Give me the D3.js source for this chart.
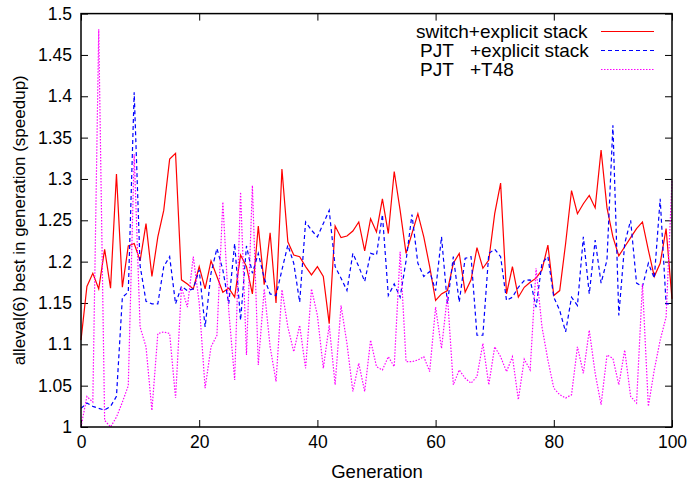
<!DOCTYPE html>
<html>
<head>
<meta charset="utf-8">
<script src="https://cdn.jsdelivr.net/npm/d3@7"></script>
<style>
  body { margin: 0; background: #fff; }
  text { font-family: "Liberation Sans", Arial, sans-serif; fill: #000; }
</style>
</head>
<body>
<script>
/* CONSTANTS */
const WIDTH = 689;
const HEIGHT = 487;
const LEFT = 81, RIGHT = 672, TOP = 13.6, BOTTOM = 427;

/* DATA */
const generations = d3.range(0, 101);
const switchExplicit = [
  1.105, 1.170, 1.186, 1.167, 1.215, 1.168, 1.306, 1.169, 1.219, 1.222,
  1.201, 1.246, 1.182, 1.230, 1.262, 1.324, 1.331, 1.178, 1.173, 1.167,
  1.194, 1.167, 1.201, 1.182, 1.163, 1.168, 1.157, 1.208, 1.194, 1.161,
  1.243, 1.172, 1.235, 1.150, 1.312, 1.224, 1.208, 1.206, 1.194, 1.184,
  1.194, 1.182, 1.125, 1.243, 1.229, 1.231, 1.237, 1.248, 1.213, 1.252,
  1.236, 1.276, 1.234, 1.309, 1.262, 1.210, 1.234, 1.258, 1.230, 1.194,
  1.153, 1.161, 1.165, 1.198, 1.210, 1.163, 1.178, 1.217, 1.192, 1.202,
  1.258, 1.295, 1.161, 1.194, 1.157, 1.169, 1.175, 1.180, 1.190, 1.220,
  1.159, 1.165, 1.222, 1.286, 1.258, 1.270, 1.280, 1.265, 1.335, 1.265,
  1.230, 1.207, 1.218, 1.229, 1.240, 1.248, 1.214, 1.182, 1.198, 1.240,
  1.155
];
const pjtExplicit = [
  1.0225, 1.029, 1.025, 1.0225, 1.0205, 1.025, 1.037, 1.157, 1.163, 1.405,
  1.195, 1.152, 1.149, 1.149, 1.194, 1.206, 1.149, 1.170, 1.165, 1.167,
  1.190, 1.121, 1.186, 1.216, 1.190, 1.149, 1.222, 1.129, 1.219, 1.186,
  1.210, 1.180, 1.161, 1.159, 1.190, 1.220, 1.198, 1.151, 1.248, 1.238,
  1.230, 1.246, 1.262, 1.194, 1.180, 1.165, 1.210, 1.194, 1.176, 1.210,
  1.208, 1.257, 1.159, 1.173, 1.157, 1.201, 1.257, 1.198, 1.182, 1.188,
  1.165, 1.230, 1.149, 1.206, 1.151, 1.204, 1.206, 1.111, 1.111, 1.210,
  1.215, 1.206, 1.153, 1.157, 1.169, 1.177, 1.178, 1.145, 1.198, 1.206,
  1.157, 1.141, 1.115, 1.157, 1.147, 1.230, 1.161, 1.226, 1.174, 1.202,
  1.365, 1.135, 1.222, 1.250, 1.174, 1.170, 1.198, 1.180, 1.276, 1.149,
  1.149
];
const pjtT48 = [
  1.000, 1.037, 1.030, 1.481, 1.008, 1.000, 1.012, 1.030, 1.050, 1.330,
  1.121, 1.097, 1.020, 1.113, 1.115, 1.113, 1.035, 1.169, 1.145, 1.206,
  1.150, 1.047, 1.097, 1.111, 1.272, 1.141, 1.057, 1.284, 1.087, 1.292,
  1.075, 1.167, 1.097, 1.055, 1.166, 1.121, 1.091, 1.123, 1.071, 1.167,
  1.135, 1.071, 1.123, 1.051, 1.147, 1.101, 1.043, 1.077, 1.043, 1.105,
  1.073, 1.069, 1.085, 1.073, 1.212, 1.079, 1.079, 1.081, 1.085, 1.067,
  1.145, 1.095, 1.159, 1.051, 1.069, 1.059, 1.053, 1.061, 1.101, 1.051,
  1.097, 1.085, 1.067, 1.085, 1.033, 1.082, 1.069, 1.192, 1.121, 1.081,
  1.047, 1.039, 1.035, 1.039, 1.097, 1.065, 1.117, 1.065, 1.027, 1.087,
  1.083, 1.051, 1.093, 1.037, 1.029, 1.173, 1.025, 1.069, 1.105, 1.133,
  1.298
];
const xTicks = [0, 20, 40, 60, 80, 100];
const yTicks = [1, 1.05, 1.1, 1.15, 1.2, 1.25, 1.3, 1.35, 1.4, 1.45, 1.5];
const yTickLabels = ["1", "1.05", "1.1", "1.15", "1.2", "1.25", "1.3", "1.35", "1.4", "1.45", "1.5"];
const seriesNames = ["switch+explicit stack", "PJT\t+explicit stack", "PJT\t+T48"];
const seriesColors = ["#ff0000", "#0000ff", "#ff00ff"];
const seriesDash = [null, "4,3", "1.5,1.5"];

/* D3 */
const svg = d3.select("body")
    .append("svg")
    .attr("width", WIDTH)
    .attr("height", HEIGHT);

const x = d3.scaleLinear().domain([0, 100]).range([LEFT, RIGHT]);
const y = d3.scaleLinear().domain([1, 1.5]).range([BOTTOM, TOP]);

// axes, gnuplot style: ticks point inward on all four sides
const fontSize = "17px";
svg.append("g")
    .attr("transform", `translate(0,${BOTTOM})`)
    .call(d3.axisBottom(x).tickValues(xTicks).tickSize(-7).tickPadding(9))
    .call(g => g.select(".domain").remove())
    .selectAll("text").attr("font-size", "17.5px").attr("font-family", null);

svg.append("g")
    .attr("transform", `translate(0,${TOP})`)
    .call(d3.axisTop(x).tickValues(xTicks).tickSize(-7).tickFormat(""))
    .call(g => g.select(".domain").remove());

svg.append("g")
    .attr("transform", `translate(${LEFT},0)`)
    .call(d3.axisLeft(y).tickValues(yTicks).tickSize(-7).tickPadding(9)
        .tickFormat((d, i) => yTickLabels[i]))
    .call(g => g.select(".domain").remove())
    .selectAll("text").attr("font-size", "17.5px").attr("font-family", null);

svg.append("g")
    .attr("transform", `translate(${RIGHT},0)`)
    .call(d3.axisRight(y).tickValues(yTicks).tickSize(-7).tickFormat(""))
    .call(g => g.select(".domain").remove());

svg.selectAll(".tick line").attr("stroke", "#000").attr("stroke-width", 1);

// series
const line = d3.line()
    .x((d, i) => x(generations[i]))
    .y(d => y(d));

[switchExplicit, pjtExplicit, pjtT48].forEach((s, k) => {
  svg.append("path")
      .attr("d", line(s))
      .attr("fill", "none")
      .attr("stroke", seriesColors[k])
      .attr("stroke-width", 1.2)
      .attr("stroke-dasharray", seriesDash[k]);
});

// frame
svg.append("rect")
    .attr("x", LEFT)
    .attr("y", TOP)
    .attr("width", RIGHT - LEFT)
    .attr("height", BOTTOM - TOP)
    .attr("fill", "none")
    .attr("stroke", "#000")
    .attr("stroke-width", 1.5);

// legend (title parts split on the tab, as gnuplot lays them out)
const legend = svg.append("g");
seriesNames.forEach((name, k) => {
  const ly = 31.5 + k * 19;
  const parts = name.split("\t");
  const t = legend.append("text")
      .attr("y", ly + 6.5)
      .attr("font-size", "19px");
  if (parts.length === 1) {
    t.attr("x", 416).text(parts[0]);
  } else {
    t.append("tspan").attr("x", 420).text(parts[0]);
    t.append("tspan").attr("x", 470).text(parts[1]);
  }
  legend.append("line")
      .attr("x1", 601).attr("x2", 654)
      .attr("y1", ly).attr("y2", ly)
      .attr("stroke", seriesColors[k])
      .attr("stroke-width", 1.2)
      .attr("stroke-dasharray", seriesDash[k]);
});

// labels
svg.append("text")
    .attr("x", 377)
    .attr("y", 478)
    .attr("text-anchor", "middle")
    .attr("font-size", "18.5px")
    .text("Generation");

svg.append("text")
    .attr("transform", `translate(25,${(TOP + BOTTOM) / 2}) rotate(-90)`)
    .attr("text-anchor", "middle")
    .attr("font-size", fontSize)
    .text("alleval(6) best in generation (speedup)");
</script>
</body>
</html>
